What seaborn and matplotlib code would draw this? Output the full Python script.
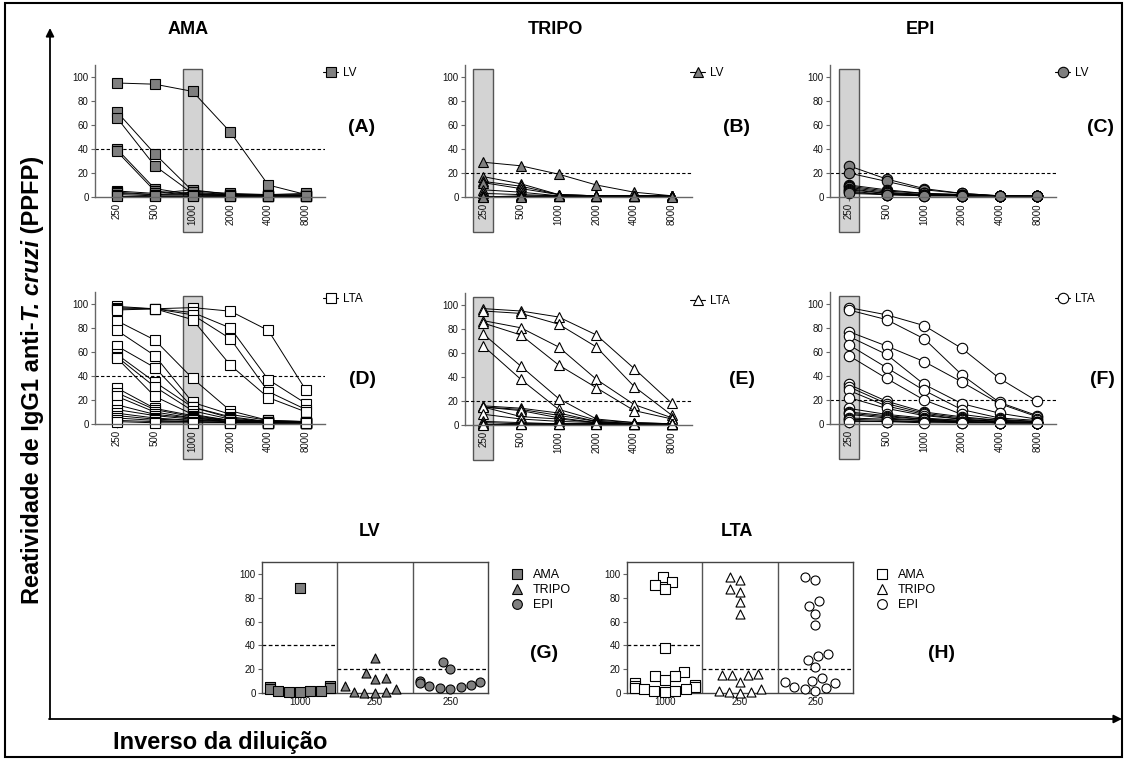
import numpy as np
import pandas as pd
import seaborn as sns
import matplotlib
matplotlib.use('Agg')
import matplotlib.pyplot as plt
from matplotlib.lines import Line2D
from matplotlib.patches import Rectangle

# reciprocal dilutions on the x axis of panels A-F
dilutions = [250, 500, 1000, 2000, 4000, 8000]

# LV sera (A, B, C): % positive parasites per dilution, one row per serum
ama_lv = [[95, 94, 88, 54, 10, 2],
          [71, 36, 5, 3, 2, 2],
          [66, 26, 3, 2, 1, 1],
          [40, 7, 2, 2, 1, 1],
          [38, 5, 2, 1, 1, 1],
          [5, 3, 6, 2, 2, 3],
          [4, 2, 4, 2, 1, 1],
          [3, 2, 2, 1, 1, 1],
          [2, 1, 1, 1, 1, 1],
          [1, 1, 1, 1, 1, 1]]
tripo_lv = [[29, 26, 19, 10, 4, 1],
            [17, 11, 2, 1, 1, 1],
            [13, 9, 2, 1, 1, 1],
            [12, 7, 2, 1, 1, 1],
            [6, 4, 1, 1, 1, 1],
            [3, 2, 1, 1, 1, 1],
            [1, 1, 1, 1, 1, 1],
            [1, 1, 1, 1, 1, 1],
            [0, 1, 1, 1, 1, 1],
            [0, 0, 1, 1, 1, 0]]
epi_lv = [[26, 15, 7, 3, 1, 1],
          [20, 13, 6, 3, 1, 1],
          [10, 6, 3, 2, 1, 1],
          [9, 5, 3, 2, 1, 1],
          [8, 4, 2, 2, 1, 1],
          [7, 3, 2, 1, 1, 1],
          [6, 3, 2, 1, 1, 1],
          [5, 2, 2, 1, 1, 1],
          [4, 2, 1, 1, 1, 1],
          [3, 2, 1, 1, 1, 1]]

# LTA sera (D, E, F)
ama_lta = [[98, 96, 97, 94, 78, 28],
           [97, 96, 93, 80, 37, 17],
           [96, 96, 91, 71, 27, 12],
           [95, 96, 87, 49, 22, 10],
           [86, 70, 38, 11, 3, 2],
           [78, 57, 18, 8, 3, 2],
           [65, 47, 14, 6, 2, 2],
           [58, 35, 14, 5, 2, 2],
           [56, 31, 11, 4, 2, 1],
           [55, 23, 8, 3, 2, 1],
           [30, 13, 7, 3, 2, 1],
           [26, 12, 6, 3, 2, 1],
           [23, 10, 5, 3, 1, 1],
           [16, 8, 5, 2, 1, 1],
           [12, 7, 4, 2, 1, 1],
           [9, 5, 3, 2, 1, 1],
           [7, 4, 3, 2, 1, 1],
           [5, 3, 2, 1, 1, 1],
           [3, 2, 2, 1, 1, 1],
           [2, 1, 1, 1, 1, 1]]
tripo_lta = [[97, 95, 90, 75, 47, 18],
             [95, 93, 84, 65, 32, 8],
             [87, 81, 65, 38, 17, 6],
             [85, 75, 50, 31, 12, 5],
             [76, 49, 22, 5, 2, 1],
             [66, 38, 13, 4, 2, 1],
             [16, 14, 10, 3, 1, 1],
             [15, 13, 8, 3, 1, 1],
             [15, 12, 6, 2, 1, 1],
             [15, 7, 5, 2, 1, 1],
             [9, 5, 3, 2, 1, 1],
             [3, 2, 1, 1, 1, 1],
             [2, 1, 1, 1, 1, 1],
             [1, 1, 1, 1, 1, 1],
             [1, 1, 1, 1, 1, 1],
             [0, 1, 1, 1, 1, 1]]
epi_lta = [[97, 91, 82, 63, 38, 19],
           [95, 87, 71, 41, 18, 7],
           [77, 65, 52, 35, 17, 6],
           [73, 58, 33, 17, 9, 4],
           [66, 47, 28, 12, 5, 3],
           [57, 38, 20, 8, 4, 2],
           [33, 19, 10, 6, 3, 2],
           [31, 17, 9, 5, 3, 2],
           [28, 15, 8, 4, 2, 1],
           [22, 13, 7, 4, 2, 1],
           [13, 8, 5, 3, 2, 1],
           [10, 7, 4, 3, 2, 1],
           [9, 6, 4, 2, 1, 1],
           [8, 5, 3, 2, 1, 1],
           [5, 4, 3, 2, 1, 1],
           [4, 3, 2, 2, 1, 1],
           [3, 2, 2, 1, 1, 1],
           [2, 2, 1, 1, 1, 1]]

forms = ['AMA', 'TRIPO', 'EPI']
form_markers = ['s', '^', 'o']
chosen_dil = [1000, 250, 250]          # highlighted dilution per form
cutoff_lv = [40, 20, 20]
cutoff_lta = [40, 20, 20]

W, H = 1127, 761
sns.set_style('ticks')
plt.rcParams['font.family'] = ['Liberation Sans', 'DejaVu Sans']
plt.rcParams['text.color'] = 'black'

fig = plt.figure(figsize=(W / 100, H / 100), dpi=100)
gray = '#7f7f7f'
axcol = '#666666'


def place(l, t, r, b):
    return fig.add_axes([l / W, 1 - b / H, (r - l) / W, (b - t) / H])


def curve_frame(rows):
    arr = np.array(rows)
    n, k = arr.shape
    return pd.DataFrame({'subject': np.repeat(np.arange(n), k),
                         'pos': np.tile(np.arange(k), n),
                         'value': arr.ravel()})


def style_axis(ax):
    sns.despine(ax=ax)
    for s in ['left', 'bottom']:
        ax.spines[s].set_color(axcol)
        ax.spines[s].set_linewidth(1)
    ax.tick_params(colors=axcol, labelcolor='#111111', labelsize=7, length=3, width=0.8, pad=1.5)


def curve_panel(box, xlim, rows, marker, face, cut, hl, letter, letter_xy, leg_label, leg_xy):
    ax = place(*box)
    df = curve_frame(rows)
    sns.lineplot(data=df, x='pos', y='value', units='subject', estimator=None,
                 color='black', lw=0.7, marker=marker, markersize=7.5,
                 markerfacecolor=face, markeredgecolor='black', markeredgewidth=0.8,
                 legend=False, ax=ax, clip_on=False)
    ax.set_xlim(*xlim)
    ax.set_ylim(0, 110)
    ax.set_yticks([0, 20, 40, 60, 80, 100])
    ax.set_xticks(range(len(dilutions)))
    ax.set_xticklabels([str(d) for d in dilutions], rotation=90)
    ax.tick_params(axis='x', length=0, pad=4)
    ax.set_xlabel('')
    ax.set_ylabel('')
    style_axis(ax)
    ax.axhline(cut, color='black', lw=0.8, ls=(0, (3, 2)), zorder=1)
    i = dilutions.index(hl)
    ax.add_patch(Rectangle((i - 0.26, -29), 0.52, 136, facecolor='#d3d3d3',
                           edgecolor='#555555', lw=1, zorder=0.3, clip_on=False))
    fig.text(letter_xy[0] / W, 1 - letter_xy[1] / H, letter, ha='center', va='center',
             fontsize=14, weight='bold')
    h = Line2D([], [], color='black', lw=0.8, marker=marker, markersize=7.5,
               markerfacecolor=face, markeredgecolor='black', markeredgewidth=0.8)
    ax.legend([h], [leg_label], loc='center left', frameon=False, fontsize=8.5,
              bbox_to_anchor=((leg_xy[0] - 9) / W, 1 - leg_xy[1] / H),
              bbox_transform=fig.transFigure, borderpad=0, handlelength=1.3,
              handletextpad=0.4)
    return ax


# top row (LV)
curve_panel((95, 65, 325, 197), (-0.58, 5.5), ama_lv, 's', gray, 40, 1000, '(A)', (362, 128), 'LV', (326, 73))
curve_panel((465, 65, 692, 197), (-0.48, 5.53), tripo_lv, '^', gray, 20, 250, '(B)', (737, 128), 'LV', (693, 73))
curve_panel((830, 65, 1056, 197), (-0.5, 5.5), epi_lv, 'o', gray, 20, 250, '(C)', (1101, 128), 'LV', (1058, 73))
# middle row (LTA)
curve_panel((95, 292, 325, 424), (-0.58, 5.5), ama_lta, 's', 'white', 40, 1000, '(D)', (363, 380), 'LTA', (326, 299))
curve_panel((465, 293, 692, 425), (-0.48, 5.53), tripo_lta, '^', 'white', 20, 250, '(E)', (742, 380), 'LTA', (693, 301))
curve_panel((830, 292, 1056, 424), (-0.5, 5.5), epi_lta, 'o', 'white', 20, 250, '(F)', (1102, 380), 'LTA', (1058, 299))

for name, x in zip(forms, [188, 555, 920]):
    fig.text(x / W, 1 - 30 / H, name, ha='center', va='center', fontsize=13, weight='bold')


def scatter_panel(box, sets, face, cuts, title, title_x, letter, letter_x, leg_x):
    ax = place(*box)
    for name, rows, m, d in zip(forms, sets, form_markers, chosen_dil):
        vals = np.array(rows)[:, dilutions.index(d)]
        sns.swarmplot(x=[name] * len(vals), y=vals, order=forms, marker=m, color=face,
                      edgecolor='black', linewidth=0.8, size=6.5, ax=ax, warn_thresh=1)
    for c in ax.collections:
        c.set_clip_on(False)
    ax.set_xlim(-0.5, 2.5)
    ax.set_ylim(0, 110)
    ax.set_yticks([0, 20, 40, 60, 80, 100])
    ax.set_xticks(range(3))
    ax.set_xticklabels([str(d) for d in chosen_dil])
    ax.tick_params(axis='x', length=0, pad=3)
    for s in ax.spines.values():
        s.set_color('#444444')
        s.set_linewidth(1)
    ax.tick_params(axis='y', colors=axcol, labelcolor='#111111', labelsize=7, length=3, width=0.8, pad=1.5)
    ax.tick_params(axis='x', labelcolor='#111111', labelsize=7)
    for xv in [0.5, 1.5]:
        ax.axvline(xv, color='#555555', lw=1)
    for i, c in enumerate(cuts):
        ax.hlines(c, i - 0.5, i + 0.5, color='black', lw=0.9, linestyles=(0, (3, 2)), zorder=1)
    fig.text(title_x / W, 1 - 532 / H, title, ha='center', va='center', fontsize=13, weight='bold')
    fig.text(letter_x / W, 1 - 654 / H, letter, ha='center', va='center', fontsize=14, weight='bold')
    handles = [Line2D([], [], ls='', marker=m, markersize=7, markerfacecolor=face,
                      markeredgecolor='black', markeredgewidth=0.8) for m in form_markers]
    ax.legend(handles, forms, loc='upper left', frameon=False, fontsize=9,
              bbox_to_anchor=((leg_x - 7) / W, 1 - 563 / H), bbox_transform=fig.transFigure,
              borderpad=0, handlelength=1.1, handletextpad=0.7, labelspacing=0.25)
    ax.set_ylabel('')


scatter_panel((262, 562, 488, 693), [ama_lv, tripo_lv, epi_lv], gray, cutoff_lv, 'LV', 370, '(G)', 544, 511)
scatter_panel((627, 562, 853, 693), [ama_lta, tripo_lta, epi_lta], 'white', cutoff_lta, 'LTA', 737, '(H)', 941, 876)

# overall frame, axis arrows and global labels
bg = fig.add_axes([0, 0, 1, 1], zorder=-1)
bg.set_xlim(0, W)
bg.set_ylim(H, 0)
bg.axis('off')
bg.add_patch(Rectangle((5, 3), 1117, 754, fill=False, lw=1.5, edgecolor='black'))
bg.annotate('', xy=(50, 28), xytext=(50, 719),
            arrowprops=dict(arrowstyle='-|>', color='black', lw=1.3, mutation_scale=12, shrinkA=0, shrinkB=0))
bg.annotate('', xy=(1122, 719), xytext=(49, 719),
            arrowprops=dict(arrowstyle='-|>', color='black', lw=1.3, mutation_scale=12, shrinkA=0, shrinkB=0))
bg.text(113, 742, 'Inverso da diluição', ha='left', va='center', fontsize=17, weight='bold')

parts = [('Reatividade de IgG1 anti-', 'normal'), ('T. cruzi', 'italic'), (' (PPFP)', 'normal')]
renderer = fig.canvas.get_renderer()
texts = [bg.text(39, 0, p, rotation=90, rotation_mode='anchor', ha='left', va='baseline',
                 fontsize=17, weight='bold', style=st) for p, st in parts]
lengths = [t.get_window_extent(renderer).height for t in texts]
y = 380 + sum(lengths) / 2
for t, L in zip(texts, lengths):
    t.set_position((39, y))
    y -= L

fig.savefig('out.png', dpi=100)
